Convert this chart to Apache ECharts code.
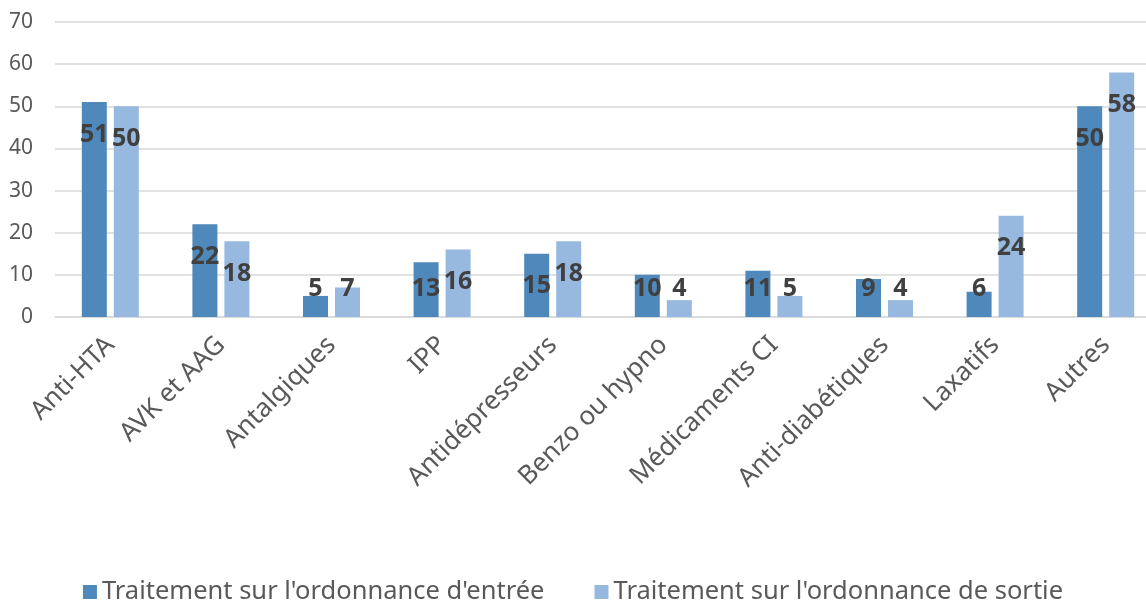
<!DOCTYPE html>
<html>
<head>
<meta charset="utf-8">
<script src="https://cdn.jsdelivr.net/npm/echarts@6/dist/echarts.min.js"></script>
<style>
  html, body { margin: 0; padding: 0; background: #fff; }
  #main { width: 1146px; height: 609px; }
</style>
</head>
<body>
<div id="main"></div>
<script>
var categories = ['Anti-HTA', 'AVK et AAG', 'Antalgiques', 'IPP', 'Antidépresseurs', 'Benzo ou hypno', 'Médicaments CI', 'Anti-diabétiques', 'Laxatifs', 'Autres'];
var entree = [51, 22, 5, 13, 15, 10, 11, 9, 6, 50];
var sortie = [50, 18, 7, 16, 18, 4, 5, 4, 24, 58];
var seriesNames = ["Traitement sur l'ordonnance d'entrée", "Traitement sur l'ordonnance de sortie"];

var myChart = echarts.init(document.getElementById('main'));

// short bars: label stays just above the baseline, like in the original
function withLabels(values) {
  return values.map(function (v) {
    if (v < 14) {
      return { value: v, label: { position: 'insideBottom', distance: 16 } };
    }
    return v;
  });
}

var labelStyle = {
  show: true,
  position: 'insideTop',
  distance: 20,
  color: '#404040',
  fontWeight: 'bold',
  fontSize: 25,
  fontFamily: 'Noto Sans'
};

var option = {
  animation: false,
  textStyle: { fontFamily: 'Noto Sans' },
  grid: {
    left: 55,
    top: 22,
    width: 1106,
    height: 295,
    outerBoundsMode: 'none'
  },
  legend: {
    bottom: -1,
    left: 'center',
    itemWidth: 14,
    itemHeight: 14,
    itemGap: 50,
    icon: 'rect',
    textStyle: { fontSize: 25.5, color: '#595959', fontFamily: 'Noto Sans' },
    data: seriesNames
  },
  xAxis: {
    type: 'category',
    data: categories,
    axisLine: { lineStyle: { color: '#d9d9d9', width: 1.5 } },
    axisTick: { show: false },
    axisLabel: {
      rotate: 45,
      interval: 0,
      margin: 24,
      fontSize: 26,
      color: '#595959',
      fontFamily: 'Noto Sans'
    }
  },
  yAxis: {
    type: 'value',
    min: 0,
    max: 70,
    interval: 10,
    axisLine: { show: false },
    axisTick: { show: false },
    axisLabel: { fontSize: 21, color: '#595959', margin: 22, fontFamily: 'Noto Sans' },
    splitLine: { lineStyle: { color: '#d9d9d9', width: 1.5 } }
  },
  series: [
    {
      name: seriesNames[0],
      type: 'bar',
      barWidth: 25,
      barGap: '28%',
      itemStyle: { color: '#4f88bb' },
      label: labelStyle,
      data: withLabels(entree)
    },
    {
      name: seriesNames[1],
      type: 'bar',
      barWidth: 25,
      itemStyle: { color: '#97b9e0' },
      label: labelStyle,
      data: withLabels(sortie)
    }
  ]
};
myChart.setOption(option);
</script>
</body>
</html>
